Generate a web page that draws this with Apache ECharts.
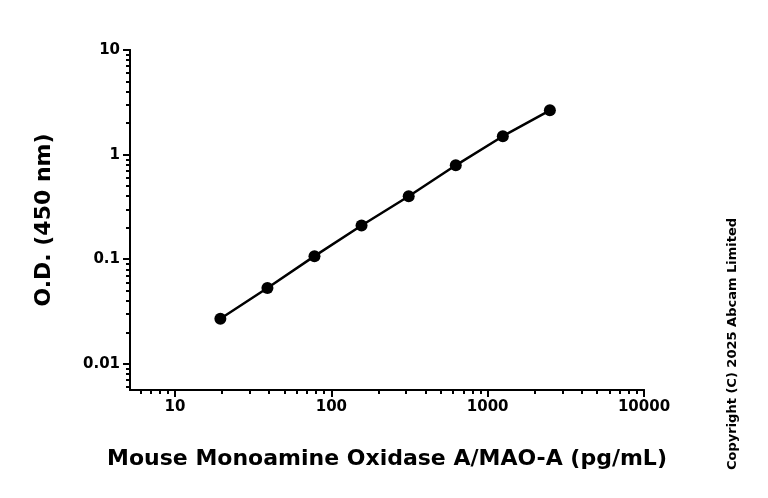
<!DOCTYPE html>
<html><head><meta charset="utf-8">
<script src="https://cdn.jsdelivr.net/npm/echarts@6/dist/echarts.min.js"></script>
<style>html,body{margin:0;padding:0;background:#fff}#c{width:768px;height:498px}</style>
</head><body><div id="c"></div>
<script>
// concentrations (pg/mL) and O.D. readings
const conc = [19.5, 39, 78, 156, 312.5, 625, 1250, 2500];
const od = [0.027, 0.053, 0.107, 0.21, 0.40, 0.79, 1.5, 2.65];
const xMajor = [1, 2, 3, 4];        // log10 of 10..10000
const yMajor = [-2, -1, 0, 1];      // log10 of 0.01..10

const lg = Math.log10;
let xMinor = [], yMinor = [];
for (let d = 0; d <= 3; d++) for (let k = 2; k <= 9; k++) {
    let v = d + lg(k);
    if (v > 0.712 && v < 4) xMinor.push(v);
}
for (let d = -3; d <= 0; d++) for (let k = 2; k <= 9; k++) {
    let v = d + lg(k);
    if (v > -2.25 && v < 1) yMinor.push(v);
}
const fmt = v => { let r = Math.pow(10, v); return r >= 1 ? String(Math.round(r)) : String(+r.toPrecision(1)); };
const font = 'DejaVu Sans';
const axisBase = {
    type: 'value', splitLine: {show: false},
    axisLine: {show: true, onZero: false, lineStyle: {color: '#000', width: 2}}
};
const chart = echarts.init(document.getElementById('c'));
chart.setOption({
    animation: false,
    grid: {left: 130, right: 124, top: 50, bottom: 108},
    xAxis: [
        Object.assign({}, axisBase, {min: 0.712, max: 4,
            axisTick: {show: true, customValues: xMajor, length: 7, lineStyle: {width: 2}},
            axisLabel: {customValues: xMajor, formatter: fmt, color: '#000', fontFamily: font, fontWeight: 'bold', fontSize: 15, margin: 10},
            name: 'Mouse Monoamine Oxidase A/MAO-A (pg/mL)', nameLocation: 'middle', nameGap: 58,
            nameTextStyle: {color: '#000', fontFamily: font, fontWeight: 'bold', fontSize: 22}}),
        Object.assign({}, axisBase, {min: 0.712, max: 4, position: 'bottom',
            axisTick: {show: true, customValues: xMinor, length: 4, lineStyle: {width: 2}},
            axisLabel: {show: false}})
    ],
    yAxis: [
        Object.assign({}, axisBase, {min: -2.25, max: 1,
            axisTick: {show: true, customValues: yMajor, length: 7, lineStyle: {width: 2}},
            axisLabel: {customValues: yMajor, formatter: fmt, color: '#000', fontFamily: font, fontWeight: 'bold', fontSize: 15, margin: 10},
            name: 'O.D. (450 nm)', nameLocation: 'middle', nameGap: 75,
            nameTextStyle: {color: '#000', fontFamily: font, fontWeight: 'bold', fontSize: 22}}),
        Object.assign({}, axisBase, {min: -2.25, max: 1, position: 'left',
            axisTick: {show: true, customValues: yMinor, length: 4, lineStyle: {width: 2}},
            axisLabel: {show: false}})
    ],
    graphic: [{
        type: 'text', x: 733, y: 470, rotation: Math.PI / 2,
        style: {text: 'Copyright (C) 2025 Abcam Limited', fill: '#000', font: 'bold 13px DejaVu Sans',
            align: 'left', verticalAlign: 'middle'}
    }],
    series: [{
        type: 'line', data: conc.map((c, i) => [lg(c), lg(od[i])]),
        symbol: 'circle', symbolSize: 12,
        itemStyle: {color: '#000'}, lineStyle: {color: '#000', width: 2.5}
    }]
});
</script></body></html>
